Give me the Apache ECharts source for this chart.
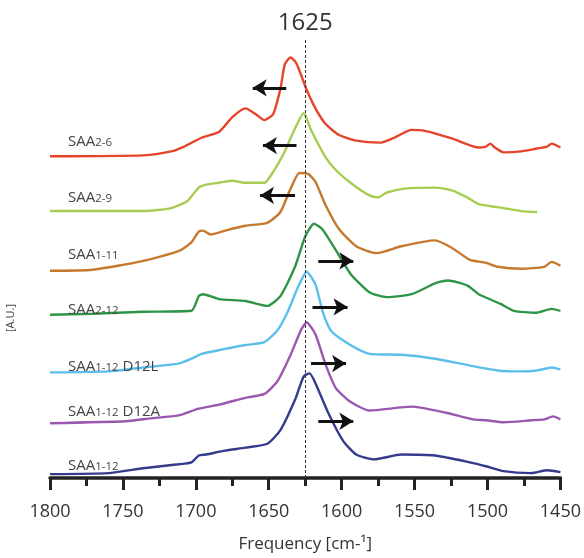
<!DOCTYPE html>
<html><head><meta charset="utf-8">
<script src="https://cdn.jsdelivr.net/npm/echarts@6/dist/echarts.min.js"></script>
<style>html,body{margin:0;padding:0;background:#fff}#c{width:584px;height:558px}</style>
</head><body><div id="c"></div>
<script>
// Spectrum labels (main text, subscript part, tail)
const labelMain = ['SAA', 'SAA', 'SAA', 'SAA', 'SAA', 'SAA', 'SAA'];
const labelSub  = ['2-6', '2-9', '1-11', '2-12', '1-12', '1-12', '1-12'];
const labelTail = ['', '', '', '', ' D12L', ' D12A', ''];
// vertical offsets of each stacked spectrum [A.U.]
const offsets = [329, 273, 212, 167, 108, 56, 4];

// SAA2-6
const freq26 = [1800,1736,1717,1708,1696,1684,1675,1666,1658,1653,1647,1642,1639,1635,1631,1624,1618,1611,1602,1590,1573,1564,1552,1543,1524,1506,1501,1498,1495,1489,1477,1466,1459,1456,1450];
const int26  = [0,1,5,10,19,25,40,49,42,37,43,69,94,101,95,68,49,33,22,16,14,19,27,26,18,9,10,13,9,4,5,8,10,13,9];
// SAA2-9
const freq29 = [1800,1736,1717,1706,1698,1693,1684,1675,1666,1653,1647,1639,1634,1626,1621,1611,1604,1594,1581,1575,1569,1557,1536,1524,1514,1506,1493,1477,1466];
const int29  = [0,0,3,10,24,27,29,31,29,29,40,61,78,100,83,55,42,29,16,14,19,23,24,21,14,7,4,0,-1];
// SAA1-11
const freq111 = [1800,1771,1736,1712,1703,1698,1695,1690,1680,1666,1651,1642,1635,1629,1623,1618,1611,1602,1590,1576,1559,1536,1524,1512,1501,1493,1477,1461,1456,1450];
const int111  = [0,1,10,20,29,40,41,37,41,46,49,60,84,100,99,91,67,43,25,18,25,31,23,11,8,4,2,4,9,5];
// SAA2-12
const freq212 = [1800,1771,1736,1703,1698,1695,1684,1666,1651,1642,1632,1625,1619,1613,1604,1594,1581,1569,1552,1536,1527,1514,1506,1491,1482,1467,1456,1450];
const int212  = [0,1,3,4,19,21,16,14,9,19,49,80,93,87,66,42,23,18,21,32,35,30,21,11,4,2,6,4];
// SAA1-12 D12L
const freqD12L = [1800,1760,1736,1712,1703,1696,1680,1666,1653,1644,1637,1630,1624,1618,1613,1607,1594,1581,1559,1536,1512,1493,1477,1466,1456,1450];
const intD12L  = [0,1,5,9,14,19,24,28,31,43,62,87,103,90,62,42,28,19,18,14,7,2,1,2,5,3];
// SAA1-12 D12A
const freqD12A = [1800,1748,1731,1712,1698,1684,1666,1653,1644,1635,1628,1624,1618,1611,1604,1594,1581,1552,1529,1510,1501,1489,1470,1461,1455,1450];
const intD12A  = [0,2,5,8,15,19,26,30,43,70,95,103,91,60,36,22,13,17,11,4,3,1,3,4,7,4];
// SAA1-12
const freq112 = [1800,1760,1736,1712,1703,1698,1693,1680,1666,1651,1642,1632,1626,1622,1618,1609,1599,1590,1578,1559,1536,1512,1501,1489,1470,1459,1450];
const int112  = [0,1,6,10,12,19,20,24,27,31,45,76,100,103,93,62,34,20,15,20,19,12,8,3,1,4,2];

const allFreq = [freq26, freq29, freq111, freq212, freqD12L, freqD12A, freq112];
const allInt  = [int26, int29, int111, int212, intD12L, intD12A, int112];

// reference line and shift arrows
const refFreq = 1625;
const arrowFrom  = [1638, 1631, 1632, 1616, 1620, 1621, 1616];
const arrowTo    = [1661, 1654, 1656, 1592, 1596, 1597, 1592];
const arrowLevel = [399, 340, 289, 222, 175, 117, 58];

const colors = ['#e5432a', '#a6cd52', '#c6792e', '#2f9546', '#5cbfea', '#9a58b0', '#343b8c'];
const labelY = [143, 199, 256, 311, 368, 413, 467];

const chart = echarts.init(document.getElementById('c'), null, {renderer: 'canvas'});

const series = allFreq.map((fr, k) => ({
  type: 'line',
  name: labelMain[k] + labelSub[k] + labelTail[k],
  data: fr.map((f, i) => [f, offsets[k] + allInt[k][i]]),
  showSymbol: false,
  smooth: 0.2,
  lineStyle: {color: colors[k], width: 2.4},
  z: 2
}));

const markData = [{
  xAxis: refFreq,
  symbol: 'none',
  lineStyle: {type: [3, 2], color: '#333', width: 1},
  label: {show: true, position: 'end', formatter: String(refFreq), fontSize: 24, color: '#333', fontFamily: 'Open Sans', distance: 3}
}];
arrowFrom.forEach((a, i) => {
  markData.push([
    {coord: [a, arrowLevel[i]], symbol: 'none', lineStyle: {color: '#111', width: 2.8, type: 'solid'}, label: {show: false}},
    {coord: [arrowTo[i], arrowLevel[i]], symbol: 'arrow', symbolSize: [13, 14]}
  ]);
});
series.push({
  type: 'line', data: [], showSymbol: false, z: 5,
  markLine: {silent: true, animation: false, symbol: ['none', 'none'], data: markData}
});

const graphics = labelMain.map((m, k) => ({
  type: 'text', left: 68, top: labelY[k] - 9, z: 10,
  style: {
    text: '{a|' + m + '}{b|' + labelSub[k] + '}{a|' + labelTail[k] + '}',
    rich: {
      a: {fontSize: 15, fontFamily: 'Open Sans', fill: '#444', color: '#444', lineHeight: 18, verticalAlign: 'bottom'},
      b: {fontSize: 11.5, fontFamily: 'Open Sans', fill: '#444', color: '#444', lineHeight: 16, verticalAlign: 'bottom'}
    }
  }
}));
graphics.push({
  type: 'text', x: 11, y: 318, rotation: Math.PI / 2, z: 10,
  style: {text: '[A.U.]', fontSize: 11, fontFamily: 'Open Sans', fill: '#444', align: 'center', verticalAlign: 'middle'}
});

chart.setOption({
  animation: false,
  backgroundColor: '#fff',
  grid: {left: 50, right: 18, top: 38, bottom: 70},
  xAxis: {
    type: 'value', min: 1450, max: 1800, interval: 50, inverse: true,
    axisLine: {lineStyle: {color: '#222', width: 3.5}},
    axisTick: {show: true, length: 12, lineStyle: {width: 3, color: '#222'}},
    minorTick: {show: true, splitNumber: 2, length: 8, lineStyle: {width: 3, color: '#222'}},
    splitLine: {show: false},
    axisLabel: {fontSize: 18, color: '#333', margin: 25, fontFamily: 'Open Sans', formatter: v => String(v)},
    name: 'Frequency [cm-¹]', nameLocation: 'middle', nameGap: 58,
    nameTextStyle: {fontSize: 17, color: '#333', fontFamily: 'Open Sans'}
  },
  yAxis: {type: 'value', min: 0, max: 450, show: false},
  series: series,
  graphic: graphics
});
</script></body></html>
